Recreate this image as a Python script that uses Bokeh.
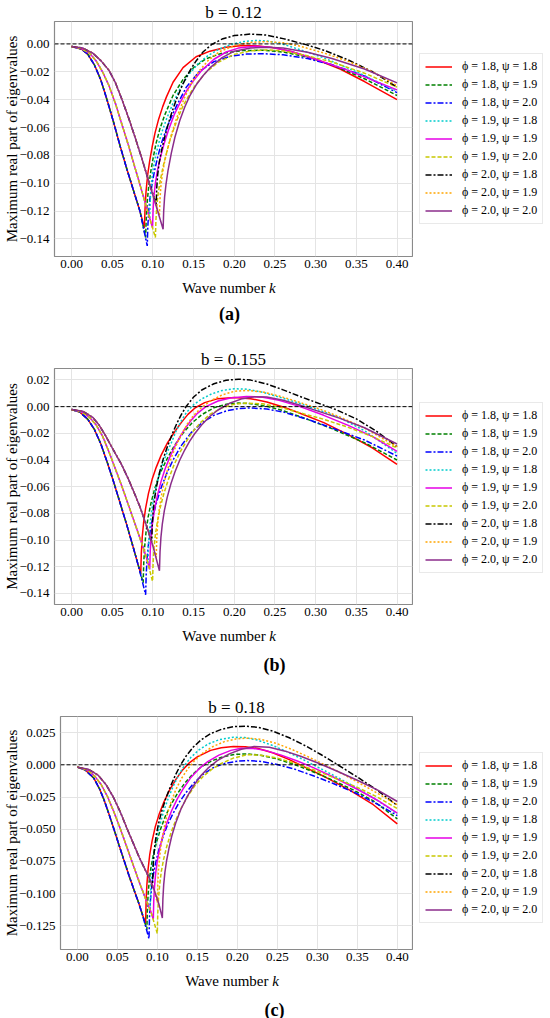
from bokeh.plotting import figure
from bokeh.models import (Range1d, FixedTicker, CustomJSTickFormatter, Span, Title,
                          Legend, LegendItem)
from bokeh.layouts import column, row
from bokeh.core.properties import value
from bokeh.embed import file_html
from bokeh.resources import INLINE

# ---------------- data ----------------
X_TICKS = [0.0, 0.05, 0.10, 0.15, 0.20, 0.25, 0.30, 0.35, 0.40]
A_Y_TICKS = [0.0, -0.02, -0.04, -0.06, -0.08, -0.10, -0.12, -0.14]
B_Y_TICKS = [0.02, 0.0, -0.02, -0.04, -0.06, -0.08, -0.10, -0.12, -0.14]
C_Y_TICKS = [0.025, 0.0, -0.025, -0.05, -0.075, -0.10, -0.125]

B_VALUES = ["0.12", "0.155", "0.18"]
PANEL_TAGS = ["a", "b", "c"]
PHI_VALUES = ["1.8", "1.8", "1.8", "1.9", "1.9", "1.9", "2.0", "2.0", "2.0"]
PSI_VALUES = ["1.8", "1.9", "2.0", "1.8", "1.9", "2.0", "1.8", "1.9", "2.0"]

# ---- panel (a) b = 0.12 : descending branches shared by equal phi ----
A_DESC_18 = [(0, -0.0018), (0.012, -0.0036), (0.020, -0.0075), (0.028, -0.015), (0.036, -0.026),
             (0.044, -0.041), (0.052, -0.057), (0.060, -0.074), (0.068, -0.090), (0.076, -0.105),
             (0.084, -0.120)]
A_DESC_19 = [(0, -0.0018), (0.012, -0.0033), (0.022, -0.0066), (0.030, -0.012), (0.038, -0.020),
             (0.046, -0.030), (0.054, -0.043), (0.062, -0.058), (0.070, -0.073), (0.078, -0.089),
             (0.086, -0.105), (0.094, -0.121)]
A_DESC_20 = [(0, -0.0018), (0.014, -0.003), (0.026, -0.0066), (0.036, -0.012), (0.046, -0.019),
             (0.054, -0.028), (0.062, -0.040), (0.070, -0.053), (0.078, -0.067), (0.086, -0.0815),
             (0.094, -0.097)]
A_18_18 = [(0.0895, -0.132), (0.0903, -0.118), (0.0915, -0.106), (0.0935, -0.094), (0.096, -0.084),
           (0.099, -0.074), (0.1025, -0.064), (0.107, -0.054), (0.112, -0.045), (0.1166, -0.038),
           (0.1247, -0.0275), (0.137, -0.017), (0.153, -0.0092), (0.170, -0.0052), (0.19, -0.0024),
           (0.21, -0.0012), (0.23, -0.0014), (0.25, -0.003), (0.27, -0.0055), (0.30, -0.011),
           (0.33, -0.018), (0.36, -0.027), (0.40, -0.040)]
A_18_19 = [(0.091, -0.139), (0.0918, -0.125), (0.093, -0.113), (0.095, -0.101), (0.0975, -0.091),
           (0.1005, -0.081), (0.104, -0.071), (0.1085, -0.061), (0.1145, -0.051), (0.1247, -0.037),
           (0.137, -0.0255), (0.150, -0.017), (0.165, -0.0107), (0.185, -0.0066), (0.21, -0.0048),
           (0.235, -0.0045), (0.26, -0.0058), (0.29, -0.0095), (0.32, -0.015), (0.36, -0.025),
           (0.40, -0.037)]
A_18_20 = [(0.093, -0.145), (0.0937, -0.131), (0.0948, -0.120), (0.0965, -0.110), (0.099, -0.100),
           (0.102, -0.091), (0.1055, -0.082), (0.110, -0.072), (0.1166, -0.061), (0.123, -0.052),
           (0.129, -0.0445), (0.141, -0.031), (0.157, -0.0198), (0.175, -0.0127), (0.195, -0.0089),
           (0.215, -0.0073), (0.235, -0.007), (0.26, -0.0078), (0.29, -0.0105), (0.32, -0.015),
           (0.36, -0.023), (0.40, -0.035)]
A_19_18 = [(0.096, -0.125), (0.0967, -0.112), (0.0978, -0.102), (0.0995, -0.093), (0.102, -0.084),
           (0.1055, -0.075), (0.110, -0.065), (0.1166, -0.054), (0.124, -0.0435), (0.133, -0.0325),
           (0.143, -0.0225), (0.155, -0.0145), (0.168, -0.0082), (0.182, -0.0035), (0.197, -0.0002),
           (0.212, 0.0017), (0.227, 0.0025), (0.242, 0.002), (0.26, -0.0002), (0.28, -0.004),
           (0.31, -0.010), (0.35, -0.020), (0.40, -0.034)]
A_19_19 = [(0.0995, -0.132), (0.1002, -0.119), (0.1013, -0.109), (0.103, -0.100), (0.1055, -0.091),
           (0.109, -0.082), (0.1135, -0.072), (0.119, -0.062), (0.126, -0.051), (0.133, -0.0425),
           (0.141, -0.034), (0.149, -0.027), (0.16, -0.019), (0.175, -0.011), (0.19, -0.0058),
           (0.205, -0.003), (0.225, -0.0017), (0.245, -0.0023), (0.27, -0.0055), (0.30, -0.011),
           (0.34, -0.019), (0.40, -0.033)]
A_19_20 = [(0.103, -0.139), (0.1037, -0.126), (0.1048, -0.116), (0.1065, -0.107), (0.109, -0.098),
           (0.1125, -0.088), (0.1166, -0.0785), (0.1205, -0.070), (0.1247, -0.0625), (0.130, -0.054),
           (0.137, -0.0445), (0.145, -0.036), (0.153, -0.029), (0.165, -0.0205), (0.18, -0.0132),
           (0.20, -0.0075), (0.22, -0.005), (0.24, -0.0043), (0.26, -0.005), (0.29, -0.0085),
           (0.32, -0.013), (0.36, -0.021), (0.40, -0.031)]
A_20_18 = [(0.104, -0.115), (0.1047, -0.103), (0.1058, -0.094), (0.1075, -0.086), (0.110, -0.078),
           (0.1135, -0.069), (0.1185, -0.058), (0.123, -0.0495), (0.129, -0.0395), (0.137, -0.0285),
           (0.1451, -0.0195), (0.153, -0.0122), (0.1615, -0.0058), (0.172, -0.0005), (0.185, 0.0035),
           (0.20, 0.006), (0.22, 0.0071), (0.24, 0.0063), (0.26, 0.0038), (0.288, -0.0005),
           (0.31, -0.0045), (0.34, -0.0115), (0.37, -0.020), (0.40, -0.031)]
A_20_19 = [(0.108, -0.123), (0.1087, -0.111), (0.1098, -0.102), (0.1115, -0.094), (0.114, -0.0855),
           (0.1175, -0.0765), (0.122, -0.0665), (0.127, -0.057), (0.133, -0.047), (0.140, -0.037),
           (0.148, -0.0275), (0.157, -0.0192), (0.168, -0.0118), (0.182, -0.0055), (0.20, -0.0012),
           (0.22, 0.0011), (0.24, 0.0017), (0.26, 0.0008), (0.28, -0.0015), (0.31, -0.0065),
           (0.34, -0.0125), (0.37, -0.020), (0.40, -0.030)]
A_20_20 = [(0.1125, -0.133), (0.1132, -0.120), (0.1143, -0.110), (0.116, -0.101), (0.1185, -0.091),
           (0.1227, -0.078), (0.127, -0.067), (0.133, -0.055), (0.139, -0.0455), (0.1451, -0.0375),
           (0.153, -0.0295), (0.1615, -0.0228), (0.170, -0.0172), (0.185, -0.0098), (0.20, -0.0052),
           (0.22, -0.0029), (0.24, -0.0024), (0.26, -0.003), (0.29, -0.006), (0.32, -0.0105),
           (0.36, -0.018), (0.40, -0.028)]

# ---- panel (b) b = 0.155 ----
B_DESC_18 = [(0, -0.0022), (0.010, -0.004), (0.020, -0.0095), (0.028, -0.017), (0.036, -0.028),
             (0.044, -0.042), (0.052, -0.057), (0.060, -0.073), (0.068, -0.089), (0.076, -0.106),
             (0.082, -0.119)]
B_DESC_19 = [(0, -0.0022), (0.012, -0.0038), (0.022, -0.008), (0.030, -0.0135), (0.038, -0.022),
             (0.046, -0.034), (0.054, -0.047), (0.062, -0.060), (0.070, -0.074), (0.078, -0.088),
             (0.086, -0.102), (0.092, -0.113)]
B_DESC_20 = [(0, -0.0022), (0.014, -0.0035), (0.026, -0.008), (0.034, -0.014), (0.041, -0.021),
             (0.050, -0.031), (0.0613, -0.0433), (0.070, -0.0545), (0.0777, -0.0657), (0.084, -0.075),
             (0.090, -0.0856), (0.095, -0.095), (0.100, -0.1045)]
B_18_18 = [(0.085, -0.125), (0.0857, -0.110), (0.0868, -0.098), (0.0885, -0.087), (0.091, -0.076),
           (0.0945, -0.065), (0.099, -0.0545), (0.104, -0.0455), (0.110, -0.0365), (0.118, -0.027),
           (0.1267, -0.0188), (0.135, -0.0118), (0.143, -0.0058), (0.152, -0.0008), (0.1636, 0.003),
           (0.18, 0.006), (0.20, 0.0069), (0.22, 0.006), (0.24, 0.0035), (0.26, -0.0002),
           (0.28, -0.0048), (0.31, -0.012), (0.34, -0.021), (0.37, -0.031), (0.40, -0.0433)]
B_18_19 = [(0.088, -0.132), (0.0887, -0.117), (0.0898, -0.105), (0.0915, -0.094), (0.094, -0.083),
           (0.0975, -0.0725), (0.102, -0.062), (0.1075, -0.0515), (0.1166, -0.040), (0.126, -0.0295),
           (0.137, -0.0198), (0.148, -0.0122), (0.16, -0.006), (0.175, -0.0008), (0.19, 0.0018),
           (0.205, 0.0027), (0.22, 0.0022), (0.24, 0.0003), (0.26, -0.003), (0.29, -0.0095),
           (0.32, -0.0165), (0.36, -0.027), (0.40, -0.040)]
B_18_20 = [(0.091, -0.141), (0.0917, -0.126), (0.0928, -0.114), (0.0945, -0.103), (0.097, -0.092),
           (0.1005, -0.081), (0.105, -0.0705), (0.1105, -0.060), (0.117, -0.050), (0.1247, -0.040),
           (0.135, -0.029), (0.147, -0.0195), (0.16, -0.0122), (0.175, -0.0065), (0.19, -0.0032),
           (0.205, -0.0014), (0.22, -0.001), (0.24, -0.0018), (0.26, -0.004), (0.29, -0.0095),
           (0.32, -0.016), (0.36, -0.025), (0.40, -0.037)]
B_19_18 = [(0.094, -0.117), (0.0947, -0.103), (0.0958, -0.092), (0.0975, -0.082), (0.100, -0.0715),
           (0.1035, -0.061), (0.108, -0.0505), (0.113, -0.041), (0.118, -0.0335), (0.123, -0.0265),
           (0.128, -0.019), (0.134, -0.0115), (0.141, -0.0045), (0.15, 0.0015), (0.16, 0.0058),
           (0.172, 0.0095), (0.185, 0.0121), (0.20, 0.0134), (0.215, 0.0131), (0.235, 0.0108),
           (0.255, 0.0072), (0.28, 0.0025), (0.305, -0.0028), (0.33, -0.0085), (0.36, -0.018),
           (0.40, -0.035)]
B_19_19 = [(0.096, -0.122), (0.0967, -0.108), (0.0978, -0.097), (0.0995, -0.087), (0.102, -0.077),
           (0.1055, -0.0665), (0.110, -0.056), (0.115, -0.0465), (0.1206, -0.038), (0.127, -0.0295),
           (0.133, -0.0228), (0.139, -0.0168), (0.147, -0.0102), (0.155, -0.0048), (0.165, 0.0),
           (0.18, 0.0042), (0.195, 0.0065), (0.215, 0.0077), (0.235, 0.0071), (0.255, 0.0047),
           (0.28, 0.0002), (0.31, -0.0065), (0.34, -0.014), (0.37, -0.0225), (0.40, -0.0335)]
B_19_20 = [(0.0995, -0.131), (0.1002, -0.117), (0.1013, -0.106), (0.103, -0.096), (0.1055, -0.086),
           (0.109, -0.0755), (0.1135, -0.065), (0.119, -0.0545), (0.126, -0.0435), (0.133, -0.0345),
           (0.14, -0.027), (0.148, -0.0195), (0.158, -0.0122), (0.17, -0.0058), (0.185, -0.0008),
           (0.20, 0.0018), (0.215, 0.0027), (0.235, 0.0021), (0.255, -0.0003), (0.28, -0.0045),
           (0.31, -0.0095), (0.34, -0.0155), (0.37, -0.0225), (0.40, -0.031)]
B_20_18 = [(0.0985, -0.101), (0.0992, -0.088), (0.1003, -0.078), (0.102, -0.069), (0.1045, -0.0595),
           (0.108, -0.0495), (0.1125, -0.0395), (0.118, -0.0295), (0.1247, -0.019), (0.130, -0.0118),
           (0.135, -0.0058), (0.141, 0.0003), (0.150, 0.0072), (0.16, 0.0125), (0.175, 0.0172),
           (0.19, 0.0198), (0.205, 0.0206), (0.22, 0.0199), (0.24, 0.017), (0.26, 0.0126),
           (0.28, 0.0078), (0.30, 0.0033), (0.325, -0.0022), (0.35, -0.0092), (0.375, -0.0185),
           (0.40, -0.030)]
B_20_19 = [(0.104, -0.113), (0.1047, -0.099), (0.1058, -0.088), (0.1075, -0.078), (0.110, -0.068),
           (0.1135, -0.0575), (0.118, -0.047), (0.123, -0.0375), (0.129, -0.0285), (0.135, -0.0208),
           (0.142, -0.0132), (0.15, -0.0065), (0.16, -0.0005), (0.172, 0.0048), (0.185, 0.0088),
           (0.20, 0.0115), (0.215, 0.0122), (0.235, 0.011), (0.255, 0.008), (0.28, 0.0033),
           (0.305, -0.0018), (0.33, -0.0078), (0.36, -0.016), (0.40, -0.030)]
B_20_20 = [(0.108, -0.123), (0.1087, -0.109), (0.1098, -0.098), (0.1115, -0.088), (0.114, -0.078),
           (0.1175, -0.068), (0.122, -0.058), (0.127, -0.049), (0.133, -0.040), (0.139, -0.0325),
           (0.145, -0.026), (0.151, -0.0205), (0.16, -0.0135), (0.17, -0.0072), (0.18, -0.0025),
           (0.195, 0.0028), (0.21, 0.006), (0.225, 0.0075), (0.24, 0.0072), (0.26, 0.0048),
           (0.28, 0.0012), (0.30, -0.0028), (0.33, -0.0088), (0.36, -0.0158), (0.40, -0.028)]

# ---- panel (c) b = 0.18 ----
C_DESC_18 = [(0, -0.0018), (0.010, -0.004), (0.0208, -0.0105), (0.028, -0.019), (0.0333, -0.027),
             (0.040, -0.039), (0.0458, -0.050), (0.052, -0.062), (0.0583, -0.074), (0.0646, -0.086),
             (0.0708, -0.097), (0.076, -0.106), (0.0813, -0.116)]
C_DESC_19 = [(0, -0.0018), (0.012, -0.0038), (0.022, -0.009), (0.030, -0.0155), (0.038, -0.025),
             (0.046, -0.037), (0.054, -0.050), (0.062, -0.064), (0.070, -0.078), (0.078, -0.092),
             (0.086, -0.105), (0.092, -0.114)]
C_DESC_20 = [(0, -0.0018), (0.014, -0.0035), (0.026, -0.008), (0.036, -0.0155), (0.045, -0.025),
             (0.054, -0.037), (0.0625, -0.050), (0.070, -0.061), (0.0775, -0.072), (0.0833, -0.0795),
             (0.090, -0.088), (0.096, -0.097), (0.102, -0.108)]
C_18_18 = [(0.0854, -0.1234), (0.086, -0.106), (0.087, -0.093), (0.0885, -0.081), (0.0905, -0.070),
           (0.0935, -0.059), (0.0975, -0.048), (0.1025, -0.038), (0.1085, -0.0285), (0.1155, -0.0195),
           (0.123, -0.0115), (0.131, -0.0045), (0.14, 0.0015), (0.15, 0.0062), (0.1666, 0.0112),
           (0.18, 0.0132), (0.195, 0.0142), (0.21, 0.0141), (0.225, 0.0128), (0.245, 0.0092),
           (0.265, 0.004), (0.285, -0.002), (0.31, -0.0095), (0.34, -0.0195), (0.37, -0.031),
           (0.40, -0.0458)]
C_18_19 = [(0.087, -0.128), (0.0876, -0.112), (0.0886, -0.100), (0.090, -0.0895), (0.092, -0.080),
           (0.095, -0.070), (0.099, -0.060), (0.104, -0.050), (0.110, -0.040), (0.117, -0.031),
           (0.125, -0.0225), (0.134, -0.0145), (0.144, -0.0075), (0.155, -0.0015), (0.168, 0.003),
           (0.182, 0.0062), (0.197, 0.0081), (0.212, 0.0085), (0.228, 0.0075), (0.248, 0.0048),
           (0.268, 0.001), (0.29, -0.0042), (0.315, -0.0108), (0.345, -0.0195), (0.37, -0.028),
           (0.40, -0.042)]
C_18_20 = [(0.0896, -0.1351), (0.0902, -0.119), (0.0912, -0.107), (0.0926, -0.097), (0.0946, -0.087),
           (0.0976, -0.077), (0.1015, -0.067), (0.1065, -0.057), (0.1125, -0.047), (0.1195, -0.038),
           (0.1275, -0.029), (0.136, -0.0215), (0.146, -0.014), (0.157, -0.0075), (0.17, -0.0022),
           (0.185, 0.0012), (0.20, 0.0028), (0.2125, 0.0033), (0.23, 0.0026), (0.25, 0.0002),
           (0.27, -0.003), (0.295, -0.0085), (0.32, -0.0145), (0.35, -0.0225), (0.375, -0.0305),
           (0.40, -0.0395)]
C_19_18 = [(0.091, -0.114), (0.0916, -0.099), (0.0926, -0.088), (0.094, -0.078), (0.096, -0.068),
           (0.099, -0.058), (0.103, -0.047), (0.108, -0.036), (0.114, -0.0255), (0.12, -0.0165),
           (0.127, -0.0075), (0.134, -0.0005), (0.142, 0.0058), (0.152, 0.0115), (0.164, 0.0163),
           (0.178, 0.0196), (0.195, 0.0214), (0.21, 0.0211), (0.225, 0.0192), (0.245, 0.0148),
           (0.265, 0.0093), (0.285, 0.0032), (0.31, -0.0048), (0.34, -0.0148), (0.37, -0.0255),
           (0.40, -0.038)]
C_19_19 = [(0.095, -0.120), (0.0956, -0.105), (0.0966, -0.094), (0.098, -0.084), (0.100, -0.0745),
           (0.103, -0.065), (0.107, -0.055), (0.112, -0.045), (0.118, -0.0355), (0.125, -0.0265),
           (0.133, -0.018), (0.142, -0.0098), (0.152, -0.0032), (0.163, 0.0025), (0.177, 0.0075),
           (0.192, 0.0112), (0.205, 0.0129), (0.22, 0.0127), (0.235, 0.0112), (0.255, 0.0075),
           (0.275, 0.003), (0.295, -0.0022), (0.32, -0.0095), (0.35, -0.019), (0.375, -0.0275),
           (0.40, -0.0376)]
C_19_20 = [(0.100, -0.131), (0.1006, -0.115), (0.1016, -0.103), (0.103, -0.093), (0.105, -0.083),
           (0.108, -0.073), (0.112, -0.063), (0.117, -0.053), (0.123, -0.043), (0.130, -0.0335),
           (0.138, -0.0245), (0.147, -0.0162), (0.157, -0.0092), (0.168, -0.0035), (0.18, 0.001),
           (0.195, 0.0052), (0.2125, 0.0079), (0.23, 0.0074), (0.25, 0.0052), (0.27, 0.0015),
           (0.295, -0.0038), (0.32, -0.0098), (0.35, -0.0175), (0.375, -0.025), (0.40, -0.034)]
C_20_18 = [(0.094, -0.095), (0.0946, -0.081), (0.0956, -0.071), (0.097, -0.062), (0.099, -0.0535),
           (0.102, -0.0445), (0.106, -0.035), (0.111, -0.0255), (0.117, -0.016), (0.123, -0.0075),
           (0.129, -0.0002), (0.136, 0.0068), (0.145, 0.0138), (0.155, 0.0195), (0.167, 0.0243),
           (0.18, 0.0275), (0.195, 0.0296), (0.21, 0.030), (0.225, 0.0292), (0.245, 0.026),
           (0.265, 0.021), (0.285, 0.0148), (0.305, 0.0078), (0.325, 0.0002), (0.35, -0.0095),
           (0.375, -0.0198), (0.40, -0.0316)]
C_20_19 = [(0.100, -0.107), (0.1006, -0.092), (0.1016, -0.081), (0.103, -0.071), (0.105, -0.061),
           (0.108, -0.0505), (0.112, -0.0395), (0.117, -0.0292), (0.123, -0.0195), (0.130, -0.0108),
           (0.138, -0.0032), (0.147, 0.0035), (0.157, 0.0092), (0.169, 0.014), (0.183, 0.0178),
           (0.198, 0.0201), (0.213, 0.0207), (0.228, 0.0199), (0.248, 0.0168), (0.268, 0.012),
           (0.29, 0.0058), (0.31, -0.0002), (0.335, -0.0082), (0.365, -0.0185), (0.40, -0.031)]
C_20_20 = [(0.1063, -0.119), (0.107, -0.104), (0.108, -0.093), (0.1095, -0.0835), (0.1116, -0.0745),
           (0.1145, -0.065), (0.118, -0.0555), (0.123, -0.0452), (0.1295, -0.0345), (0.1375, -0.0245),
           (0.145, -0.0165), (0.154, -0.0088), (0.163, -0.0028), (0.175, 0.0032), (0.19, 0.0085),
           (0.205, 0.0121), (0.221, 0.0142), (0.24, 0.0136), (0.26, 0.0106), (0.28, 0.0065),
           (0.30, 0.0016), (0.325, -0.005), (0.35, -0.012), (0.375, -0.0195), (0.40, -0.0285)]

A_DESCS = [A_DESC_18, A_DESC_19, A_DESC_20]
B_DESCS = [B_DESC_18, B_DESC_19, B_DESC_20]
C_DESCS = [C_DESC_18, C_DESC_19, C_DESC_20]
A_RISES = [A_18_18, A_18_19, A_18_20, A_19_18, A_19_19, A_19_20, A_20_18, A_20_19, A_20_20]
B_RISES = [B_18_18, B_18_19, B_18_20, B_19_18, B_19_19, B_19_20, B_20_18, B_20_19, B_20_20]
C_RISES = [C_18_18, C_18_19, C_18_20, C_19_18, C_19_19, C_19_20, C_20_18, C_20_19, C_20_20]

# ---------------- styles / layout ----------------
FONT = "Liberation Serif"
COLORS = ["#ff0000", "#008000", "#0000ff", "#00cccc", "#e600e6", "#c8c800", "#000000", "#ffa500", "#8b2d8b"]
DASHES = ["solid", "4 2", "6 2 2 2", "2 2", "solid", "4 2", "6 2 2 2", "2 2", "solid"]

PAGE_W = 550
FRAME_RIGHT = 412
WP = FRAME_RIGHT + 1         # main plot figure width
WG = PAGE_W - WP             # legend strip width
BB = 18                      # bottom border of main plots (x tick labels)
PANELS = [
    dict(bt=18, fh=238, bl=54, yr=(-0.1526, 0.0161), yt=A_Y_TICKS, dec=2, descs=A_DESCS, rises=A_RISES,
         sh=73, xl=(265, 268.5, 13), cap=(229, 39), leg=32),
    dict(bt=20, fh=237, bl=54, yr=(-0.1483, 0.0286), yt=B_Y_TICKS, dec=2, descs=B_DESCS, rises=B_RISES,
         sh=72, xl=(265.2, 268.7, 13), cap=(274, 42), leg=31),
    dict(bt=22, fh=233, bl=60, yr=(-0.1434, 0.0375), yt=C_Y_TICKS, dec=3, descs=C_DESCS, rises=C_RISES,
         sh=51, xl=(268, 271.7, 13), cap=(274, 42), leg=26),
]


def curve(desc, rise):
    pts = [q for q in desc if q[0] < rise[0][0]] + rise
    return [q[0] for q in pts], [q[1] for q in pts]


def fmt(dec):
    return CustomJSTickFormatter(args=dict(d=dec), code="""
        var s = Math.abs(tick) < 1e-12 ? (0).toFixed(d) : tick.toFixed(d);
        return s.replace('-', '\u2212');
    """)


def blank_fig(w, h, xr=None, yr=None):
    f = figure(width=w, height=h, title=None,
               x_range=xr if xr is not None else Range1d(0, w),
               y_range=yr if yr is not None else Range1d(0, h),
               output_backend="svg", toolbar_location=None,
               min_border_left=0, min_border_right=0, min_border_top=0, min_border_bottom=0,
               x_axis_type=None, y_axis_type=None)
    f.outline_line_color = None
    f.background_fill_color = "white"
    f.border_fill_color = "white"
    return f


def put(f, h, x, y_top, text, size, style="normal", align="left"):
    # y_top: baseline position measured from the top of the strip
    f.text(x=[x], y=[h - y_top], text=[text], text_font=value(FONT),
           text_font_size=value(f"{size}px"), text_font_style=value(style),
           text_align=value(align), text_baseline=value("alphabetic"),
           text_color="black")


children = []
for i, s in enumerate(PANELS):
    ph = s["bt"] + s["fh"] + BB

    # ---- main plot ----
    p = figure(width=WP, height=ph, title=None,
               x_range=Range1d(-0.021, 0.419), y_range=Range1d(*s["yr"]),
               output_backend="svg", toolbar_location=None,
               min_border_left=s["bl"], min_border_right=1,
               min_border_top=s["bt"], min_border_bottom=BB)
    p.add_layout(Title(text="b = " + B_VALUES[i], align="center", text_font=FONT,
                       text_font_size="17px", text_font_style="normal", text_color="black",
                       standoff=0, offset=0), "above")
    p.background_fill_color = "white"
    p.border_fill_color = "white"
    p.outline_line_color = "#8a8a8a"
    p.outline_line_width = 1.2

    p.xaxis.ticker = FixedTicker(ticks=X_TICKS)
    p.yaxis.ticker = FixedTicker(ticks=s["yt"])
    p.xaxis.formatter = fmt(2)
    p.yaxis.formatter = fmt(s["dec"])
    for ax in (p.xaxis, p.yaxis):
        ax.axis_line_color = None
        ax.major_tick_line_color = None
        ax.minor_tick_line_color = None
        ax.major_tick_out = 0
        ax.major_tick_in = 0
        ax.major_label_text_font = FONT
        ax.major_label_text_font_size = "13px"
        ax.major_label_text_color = "black"
    p.xaxis.major_label_standoff = 3
    p.yaxis.major_label_standoff = 5
    p.yaxis.axis_label = "Maximum real part of eigenvalues"
    p.yaxis.axis_label_text_font = FONT
    p.yaxis.axis_label_text_font_size = "15px"
    p.yaxis.axis_label_text_font_style = "normal"
    p.yaxis.axis_label_text_color = "black"
    p.yaxis.axis_label_standoff = -4
    p.xgrid.grid_line_color = "#e4e4e4"
    p.ygrid.grid_line_color = "#e4e4e4"

    p.add_layout(Span(location=0, dimension="width", line_color="black",
                      line_dash="4 2", line_width=1))

    curves = []
    for j in range(9):
        xs, ys = curve(s["descs"][j // 3], s["rises"][j])
        curves.append((xs, ys))
        p.line(xs, ys, line_color=COLORS[j], line_width=1.5, line_dash=DASHES[j])

    # ---- legend strip: same series, drawn outside its visible range, used for the swatches ----
    lf = blank_fig(WG, ph, xr=Range1d(5, 6), yr=Range1d(5, 6))
    items = []
    for j in range(9):
        r = lf.line(curves[j][0], curves[j][1], line_color=COLORS[j], line_width=1.5,
                    line_dash=DASHES[j])
        items.append(LegendItem(label=f"ϕ = {PHI_VALUES[j]}, ψ = {PSI_VALUES[j]}", renderers=[r]))
    leg = Legend(items=items, location=(6, s["leg"]), orientation="vertical",
                 label_text_font=FONT, label_text_font_size="12px", label_text_color="black",
                 glyph_width=27, glyph_height=15, label_height=15, spacing=3, padding=5,
                 label_standoff=10, margin=0,
                 border_line_color="#d4d4d4", border_line_width=1,
                 background_fill_color="white", background_fill_alpha=1.0)
    lf.add_layout(leg)

    # ---- strip below: x label and caption ----
    bf = blank_fig(PAGE_W, s["sh"])
    put(bf, s["sh"], s["xl"][0], s["xl"][2], "Wave number", 15, align="right")
    put(bf, s["sh"], s["xl"][1], s["xl"][2], "k", 15, style="italic", align="left")
    put(bf, s["sh"], s["cap"][0], s["cap"][1], "(" + PANEL_TAGS[i] + ")", 18, style="bold", align="center")

    children += [row(p, lf, spacing=0), bf]

layout = column(*children, spacing=0)
open("out.html", "w").write(file_html(layout, INLINE))
